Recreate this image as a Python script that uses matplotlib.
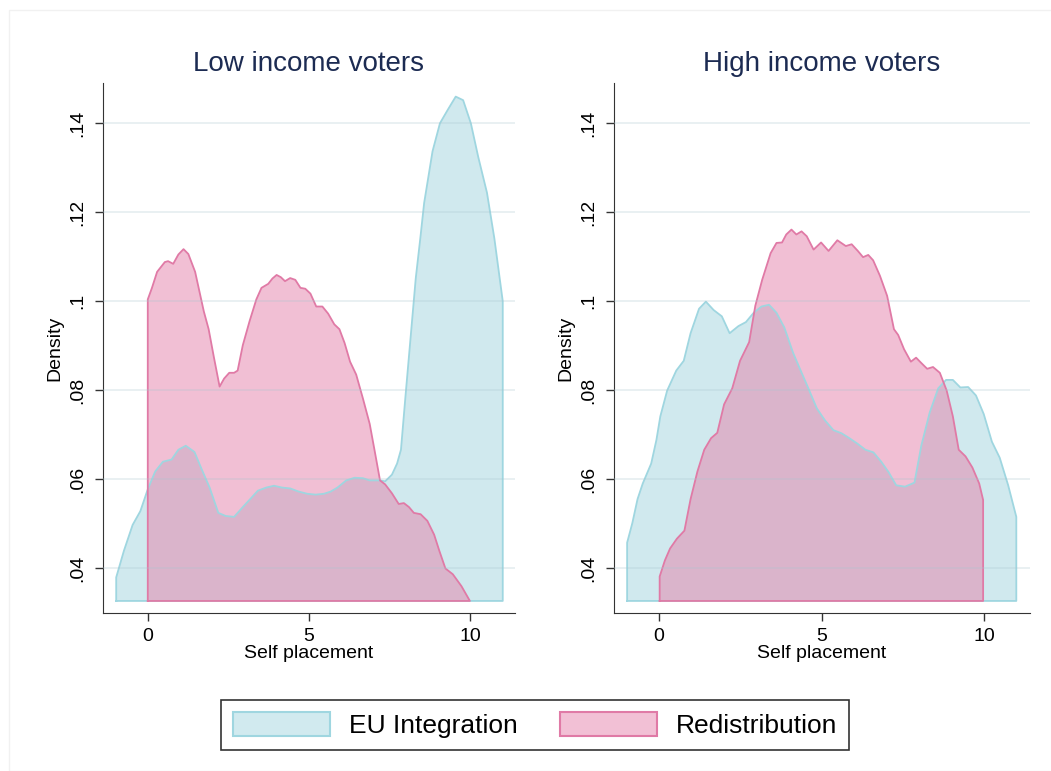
import numpy as np
import matplotlib
matplotlib.use("Agg")
import matplotlib.pyplot as plt
from matplotlib.patches import Patch, Rectangle

plt.rcParams["font.family"] = ["Liberation Sans", "DejaVu Sans"]

BASE = 0.0326
BLUE_EDGE = "#9fd6e0"
BLUE_FILL = "#a3d5de"
PINK_EDGE = "#e07aa6"
PINK_FILL = "#e580aa"
TITLE_COLOR = "#1c2b52"

# Low income voters
low_eu_x = [-0.98, -0.74, -0.47, -0.23, 0.0, 0.23, 0.47, 0.74, 0.95, 1.18, 1.45, 1.68,
            1.92, 2.19, 2.42, 2.68, 2.95, 3.18, 3.42, 3.68, 3.92, 4.16, 4.42, 4.68, 4.95,
            5.21, 5.47, 5.68, 5.89, 6.16, 6.42, 6.68, 6.89, 7.21, 7.37, 7.58, 7.74, 7.86,
            8.0, 8.16, 8.32, 8.46, 8.58, 8.84, 9.07, 9.31, 9.56, 9.79, 10.03, 10.26, 10.53,
            10.76, 11.02]
low_eu_y = [0.0379, 0.0439, 0.0497, 0.0528, 0.0577, 0.0617, 0.0639, 0.0644, 0.0666, 0.0675,
            0.0661, 0.0621, 0.0581, 0.0524, 0.0517, 0.0515, 0.0537, 0.0555, 0.0574, 0.0581,
            0.0585, 0.0581, 0.0579, 0.0572, 0.0567, 0.0565, 0.0567, 0.0572, 0.0581, 0.0597,
            0.0603, 0.0602, 0.0597, 0.0597, 0.0595, 0.0610, 0.0635, 0.0666, 0.0786, 0.0919,
            0.1052, 0.1141, 0.1221, 0.1337, 0.1400, 0.1430, 0.1460, 0.1452, 0.1400, 0.1324,
            0.1244, 0.1141, 0.1000]

low_red_x = [0.0, 0.13, 0.29, 0.53, 0.63, 0.79, 0.95, 1.11, 1.26, 1.47, 1.74, 1.89, 2.05,
             2.23, 2.37, 2.53, 2.68, 2.79, 2.95, 3.16, 3.37, 3.53, 3.74, 3.87, 4.0, 4.13,
             4.26, 4.42, 4.58, 4.74, 4.89, 5.05, 5.23, 5.42, 5.6, 5.79, 5.95, 6.11, 6.28,
             6.47, 6.68, 6.89, 7.05, 7.21, 7.37, 7.58, 7.79, 7.95, 8.11, 8.26, 8.47, 8.68,
             8.89, 9.05, 9.24, 9.47, 9.74, 10.0]
low_red_y = [0.1004, 0.1030, 0.1066, 0.1088, 0.1090, 0.1084, 0.1105, 0.1117, 0.1106, 0.1066,
             0.0977, 0.0937, 0.0875, 0.0808, 0.0826, 0.0839, 0.0839, 0.0844, 0.0901, 0.0955,
             0.1004, 0.1030, 0.1039, 0.1051, 0.1059, 0.1054, 0.1045, 0.1052, 0.1048, 0.1030,
             0.1028, 0.1017, 0.0988, 0.0988, 0.0972, 0.0948, 0.0937, 0.0906, 0.0864, 0.0835,
             0.0781, 0.0724, 0.0661, 0.0597, 0.0588, 0.0568, 0.0544, 0.0546, 0.0537, 0.0524,
             0.0521, 0.0506, 0.0475, 0.0439, 0.0399, 0.0386, 0.0359, 0.0326]

# High income voters
high_eu_x = [-0.98, -0.82, -0.66, -0.50, -0.24, -0.08, 0.04, 0.25, 0.53, 0.76, 0.97, 1.23,
             1.44, 1.68, 1.93, 2.17, 2.44, 2.67, 2.91, 3.15, 3.38, 3.61, 3.85, 4.12, 4.33,
             4.59, 4.85, 5.10, 5.36, 5.61, 5.85, 6.11, 6.34, 6.59, 6.83, 7.06, 7.29, 7.56,
             7.85, 8.06, 8.32, 8.58, 8.82, 9.03, 9.26, 9.50, 9.74, 9.98, 10.23, 10.47, 10.73,
             10.98]
high_eu_y = [0.0457, 0.0501, 0.0555, 0.0590, 0.0635, 0.0688, 0.0741, 0.0799, 0.0844, 0.0866,
             0.0928, 0.0983, 0.0999, 0.0980, 0.0966, 0.0928, 0.0944, 0.0953, 0.0974, 0.0988,
             0.0992, 0.0974, 0.0941, 0.0884, 0.0848, 0.0804, 0.0759, 0.0732, 0.0710, 0.0703,
             0.0692, 0.0679, 0.0666, 0.0660, 0.0639, 0.0615, 0.0586, 0.0583, 0.0592, 0.0675,
             0.0750, 0.0804, 0.0823, 0.0823, 0.0806, 0.0807, 0.0788, 0.0746, 0.0684, 0.0648,
             0.0586, 0.0515]

high_red_x = [0.02, 0.18, 0.34, 0.55, 0.78, 0.97, 1.18, 1.39, 1.60, 1.79, 2.0, 2.25, 2.49,
              2.77, 2.96, 3.17, 3.43, 3.61, 3.78, 3.91, 4.07, 4.22, 4.38, 4.54, 4.75, 4.98,
              5.21, 5.48, 5.74, 5.92, 6.11, 6.27, 6.43, 6.58, 6.79, 7.01, 7.22, 7.35, 7.53,
              7.74, 7.90, 8.06, 8.24, 8.42, 8.63, 8.84, 9.03, 9.21, 9.42, 9.63, 9.84, 9.96]
high_red_y = [0.0381, 0.0417, 0.0444, 0.0466, 0.0484, 0.0555, 0.0617, 0.0666, 0.0692, 0.0704,
              0.0768, 0.0804, 0.0866, 0.0908, 0.0990, 0.1048, 0.1108, 0.1131, 0.1132, 0.1150,
              0.1161, 0.1150, 0.1157, 0.1146, 0.1116, 0.1132, 0.1113, 0.1137, 0.1124, 0.1128,
              0.1113, 0.1099, 0.1104, 0.1092, 0.1057, 0.1012, 0.0937, 0.0924, 0.0892, 0.0864,
              0.0873, 0.0861, 0.0848, 0.0852, 0.0839, 0.0799, 0.0741, 0.0666, 0.0651, 0.0626,
              0.0590, 0.0553]

panels = [
    ("Low income voters", low_eu_x, low_eu_y, low_red_x, low_red_y),
    ("High income voters", high_eu_x, high_eu_y, high_red_x, high_red_y),
]
yticks = [0.04, 0.06, 0.08, 0.10, 0.12, 0.14]
ytick_labels = [".04", ".06", ".08", ".1", ".12", ".14"]


def draw_area(ax, x, y, fill, edge):
    x = np.asarray(x)
    y = np.asarray(y)
    ax.fill_between(x, BASE, y, facecolor=fill, alpha=0.5, linewidth=0, zorder=2)
    # outline: vertical edges at both ends, top curve and baseline
    ox = np.concatenate([[x[0]], x, [x[-1], x[0]]])
    oy = np.concatenate([[BASE], y, [BASE, BASE]])
    ax.plot(ox, oy, color=edge, linewidth=1.3, zorder=3)


fig = plt.figure(figsize=(10.51, 7.71), dpi=100, facecolor="white")
fig.patches.append(Rectangle((9 / 1051, 0.0), 1.0, 1 - 10 / 771, transform=fig.transFigure,
                             fill=False, edgecolor="#f1f1f1", linewidth=1.0))

positions = [[0.098, 0.205, 0.392, 0.687], [0.584, 0.205, 0.396, 0.687]]
for pos, (title, ex, ey, rx, ry) in zip(positions, panels):
    ax = fig.add_axes(pos)
    ax.set_facecolor("white")
    draw_area(ax, ex, ey, BLUE_FILL, BLUE_EDGE)
    draw_area(ax, rx, ry, PINK_FILL, PINK_EDGE)

    for yt in yticks:
        ax.axhline(yt, color="#a9c6cf", alpha=0.3, linewidth=1.2, zorder=4)

    ax.set_xlim(-1.39, 11.4)
    ax.set_ylim(0.0299, 0.149)
    ax.set_xticks([0, 5, 10])
    ax.set_xticklabels(["0", "5", "10"], fontsize=14)
    ax.set_yticks(yticks)
    ax.set_yticklabels(ytick_labels, fontsize=14, rotation=90, va="center")
    ax.tick_params(axis="both", direction="out", length=6, width=1, color="#333333")
    ax.tick_params(axis="x", pad=5)
    ax.tick_params(axis="y", pad=6)
    ax.spines["top"].set_visible(False)
    ax.spines["right"].set_visible(False)
    ax.spines["left"].set_color("#333333")
    ax.spines["bottom"].set_color("#333333")
    ax.set_xlabel("Self placement", fontsize=14, labelpad=0)
    ax.set_ylabel("Density", fontsize=14, labelpad=4)
    ax.set_title(title, fontsize=20, color=TITLE_COLOR, pad=9)

handles = [
    Patch(facecolor="#d1eaef", edgecolor=BLUE_EDGE, linewidth=1.5, label="EU Integration"),
    Patch(facecolor="#f2c0d5", edgecolor=PINK_EDGE, linewidth=1.5, label="Redistribution"),
]
leg = fig.legend(handles=handles, loc="center", bbox_to_anchor=(535 / 1051, 1 - 725 / 771),
                 ncol=2, fontsize=19, frameon=True, fancybox=False, edgecolor="black",
                 handlelength=3.7, handleheight=1.0, columnspacing=1.6, handletextpad=0.7,
                 borderpad=0.45, borderaxespad=0)
leg.get_frame().set_linewidth(1.2)

fig.savefig("out.png", dpi=100, facecolor="white")
